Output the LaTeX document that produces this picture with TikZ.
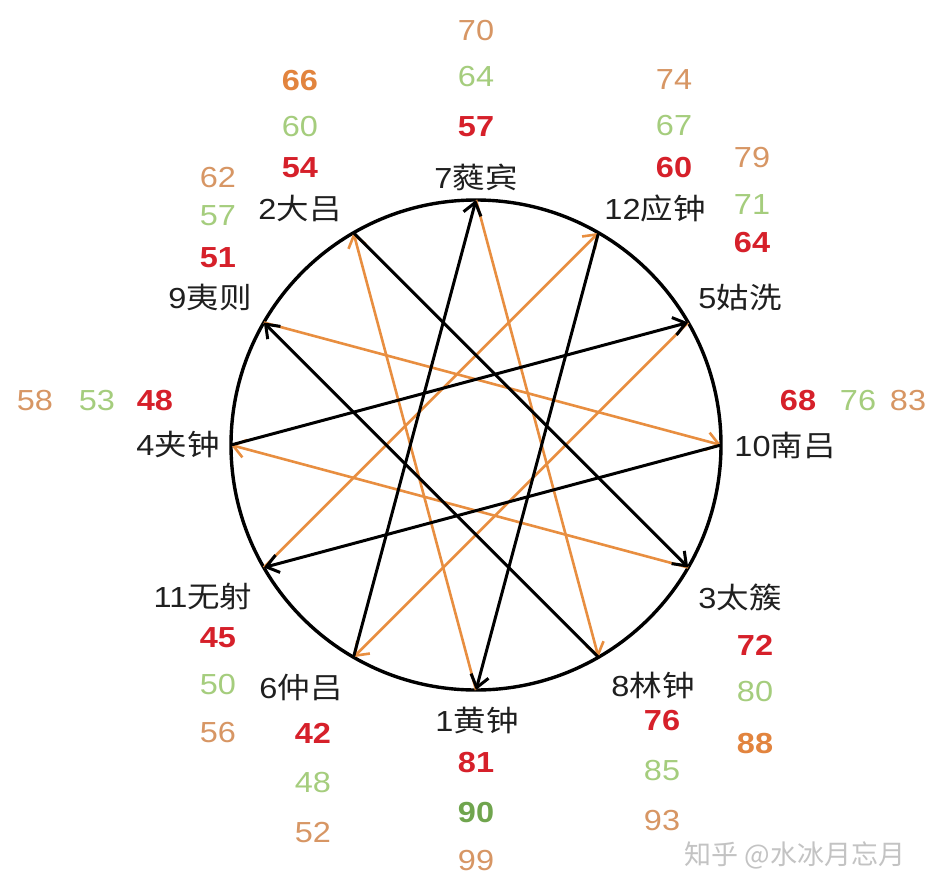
\documentclass[tikz,border=0pt]{standalone}
\usepackage{fontspec}
\setmainfont{Liberation Sans}
\newfontfamily\cjk{Noto Sans CJK SC}
\usetikzlibrary{arrows.meta}
\definecolor{numred}{RGB}{214,32,42}
\definecolor{numgreen}{RGB}{165,205,125}
\definecolor{numtan}{RGB}{215,150,100}
\definecolor{numorange}{RGB}{226,132,62}
\definecolor{numdgreen}{RGB}{112,165,78}
\definecolor{arrorange}{RGB}{232,142,64}
\definecolor{wmgray}{RGB}{195,195,195}
\newcommand\hs[1]{\scalebox{1.12}[1]{#1}}
\tikzset{
  lab/.style={font=\fontsize{29}{30}\selectfont, inner sep=0pt, text=black!88},
  numbase/.style={inner sep=0pt},
  rb/.style={numbase, text=numred, font=\fontsize{29}{30}\selectfont\bfseries},
  gn/.style={numbase, text=numgreen, font=\fontsize{29}{30}\selectfont},
  tn/.style={numbase, text=numtan, font=\fontsize{29}{30}\selectfont},
  ob/.style={numbase, text=numorange, font=\fontsize{29}{30}\selectfont\bfseries},
  gb/.style={numbase, text=numdgreen, font=\fontsize{29}{30}\selectfont\bfseries},
  oarr/.style={draw=arrorange, line width=2.6pt, -{Straight Barb[length=12pt,width=18pt,line width=2.6pt]}},
  barr/.style={draw=black, line width=3pt, -{Straight Barb[length=12pt,width=18pt,line width=3pt]}},
}
\begin{document}
\begin{tikzpicture}[x=1pt,y=-1pt]
\useasboundingbox[fill=white] (0,0) rectangle (934,894);
\coordinate (O) at (476,445);
\draw[line width=3.4pt] (O) circle[radius=245pt];
\foreach \k/\ang in {1/-90,2/120,3/-30,4/180,5/30,6/-120,7/90,8/-60,9/150,10/0,11/-150,12/60}
  \path (O) ++(\ang:245pt) coordinate (v\k);
\foreach \a/\b in {1/2,3/4,5/6,7/8,9/10,11/12}
  \draw[oarr] (v\a) -- (v\b);
\foreach \a/\b in {2/3,4/5,6/7,8/9,10/11,12/1}
  \draw[barr] (v\a) -- (v\b);
% labels
\node[lab] (l7) at (476,177) {\hs{7{\cjk 蕤宾}}};
\node[lab] (l12) at (655,208) {\hs{12{\cjk 应钟}}};
\node[lab] (l5) at (740,297) {\hs{5{\cjk 姑洗}}};
\node[lab] (l10) at (785,445) {\hs{10{\cjk 南吕}}};
\node[lab] (l3) at (740,597) {\hs{3{\cjk 太簇}}};
\node[lab] (l8) at (653,685) {\hs{8{\cjk 林钟}}};
\node[lab] (l1) at (477,721) {\hs{1{\cjk 黄钟}}};
\node[lab] (l6) at (301,687) {\hs{6{\cjk 仲吕}}};
\node[lab] (l11) at (203,596) {\hs{11{\cjk 无射}}};
\node[lab] (l4) at (178,445) {\hs{4{\cjk 夹钟}}};
\node[lab] (l9) at (210,297) {\hs{9{\cjk 夷则}}};
\node[lab] (l2) at (300,208) {\hs{2{\cjk 大吕}}};
% numbers
\node[rb] (a7) at (476,127) {\hs{57}};
\node[gn] (b7) at (476,77) {\hs{64}};
\node[tn] (c7) at (476,31) {\hs{70}};
\node[rb] (a12) at (674,168) {\hs{60}};
\node[gn] (b12) at (674,126) {\hs{67}};
\node[tn] (c12) at (674,80) {\hs{74}};
\node[rb] (a5) at (752,243) {\hs{64}};
\node[gn] (b5) at (752,205) {\hs{71}};
\node[tn] (c5) at (752,158) {\hs{79}};
\node[rb] (a10) at (798,401) {\hs{68}};
\node[gn] (b10) at (858,401) {\hs{76}};
\node[tn] (c10) at (908,401) {\hs{83}};
\node[rb] (a3) at (755,645) {\hs{72}};
\node[gn] (b3) at (755,692) {\hs{80}};
\node[ob] (c3) at (755,744) {\hs{88}};
\node[rb] (a8) at (662,721) {\hs{76}};
\node[gn] (b8) at (662,771) {\hs{85}};
\node[tn] (c8) at (662,821) {\hs{93}};
\node[rb] (a1) at (476,763) {\hs{81}};
\node[gb] (b1) at (476,813) {\hs{90}};
\node[tn] (c1) at (476,861) {\hs{99}};
\node[rb] (a6) at (313,733) {\hs{42}};
\node[gn] (b6) at (313,783) {\hs{48}};
\node[tn] (c6) at (313,833) {\hs{52}};
\node[rb] (a11) at (218,638) {\hs{45}};
\node[gn] (b11) at (218,685) {\hs{50}};
\node[tn] (c11) at (218,733) {\hs{56}};
\node[rb] (a4) at (155,401) {\hs{48}};
\node[gn] (b4) at (97,401) {\hs{53}};
\node[tn] (c4) at (35,401) {\hs{58}};
\node[rb] (a9) at (218,258) {\hs{51}};
\node[gn] (b9) at (218,216) {\hs{57}};
\node[tn] (c9) at (218,178) {\hs{62}};
\node[rb] (a2) at (300,168) {\hs{54}};
\node[gn] (b2) at (300,127) {\hs{60}};
\node[ob] (c2) at (300,81) {\hs{66}};
% watermark
\node[inner sep=0pt, text=wmgray, font=\cjk\fontsize{27}{28}\selectfont] (wm) at (795,855) {知乎 @水冰月忘月};
\end{tikzpicture}
\end{document}
